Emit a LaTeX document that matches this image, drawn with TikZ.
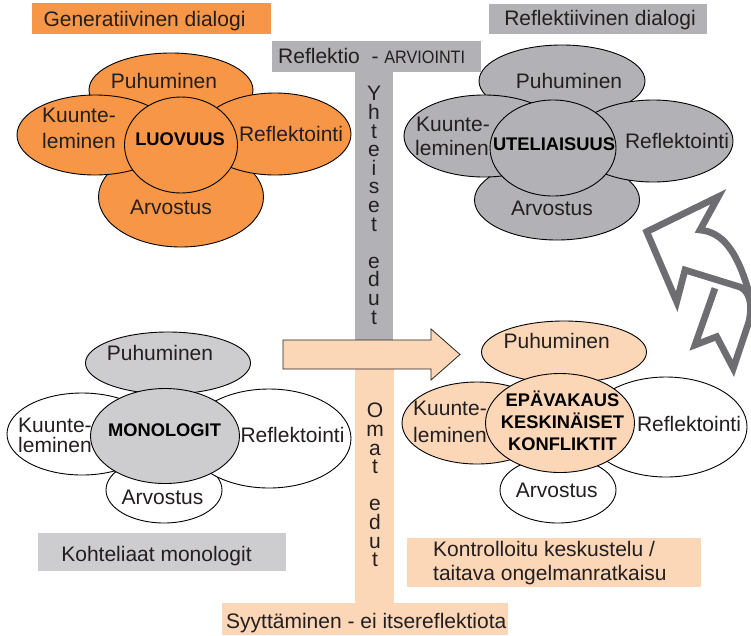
\documentclass[tikz,border=0pt]{standalone}
\usepackage{fontspec}
\usepackage{graphicx}
\setmainfont{Liberation Sans}
\usetikzlibrary{shapes.geometric}
\definecolor{petalorange}{RGB}{247,150,70}
\definecolor{petalgray}{RGB}{178,178,182}
\definecolor{palegray}{RGB}{205,205,207}
\definecolor{peach}{RGB}{251,214,183}
\definecolor{arrowgray}{RGB}{110,110,114}
\definecolor{ink}{RGB}{35,31,32}

\begin{document}
\begin{tikzpicture}[x=1pt,y=-1pt,
  petal/.style={ellipse, draw=black, line width=0.9pt, inner sep=0pt},
  lbl/.style={anchor=base, inner sep=0pt, text=ink, font=\fontsize{21}{24}\selectfont},
  lbll/.style={lbl, anchor=base west},
  column/.style={anchor=north, inner sep=0pt, text=ink, align=center,
    font=\fontsize{21}{18.6}\selectfont},
  core/.style={anchor=base, inner sep=0pt, text=black, font=\fontsize{18.3}{22}\selectfont\bfseries},
]
\useasboundingbox (0,0) rectangle (751,635);

% ---- central T-bars ----
\fill[petalgray] (272,41) rectangle (481,72);
\fill[petalgray] (355,72) rectangle (393,341);
\fill[peach] (355,368) rectangle (394,604);
\fill[peach] (222,603) rectangle (508,635);
\node[lbll] (refl) at (278,63.3)
  {Reflektio\ \ -\ \scalebox{0.9}[1]{\fontsize{18}{20}\selectfont ARVIOINTI}};
\node[column] (yhteiset) at (374,86.3)
  {Y\\h\\t\\e\\i\\s\\e\\t\\\mbox{}\\e\\d\\u\\t};
\node[column] (omat) at (375,403)
  {O\\m\\a\\t\\\mbox{}\\e\\d\\u\\t};
\node[lbll] (syyt) at (226,628.3) {Syyttäminen - ei itsereflektiota};

% block arrow across the bars
\draw[fill=peach, draw=black!85, line width=0.8pt]
  (283,340) -- (431,340) -- (431,329) -- (460,354.5) -- (431,380) -- (431,369) -- (283,369) -- cycle;

% ---- title boxes ----
\fill[petalorange] (32,3) rectangle (271,34);
\node[lbl] (tGen) at (144.5,26.7) {Generatiivinen dialogi};
\fill[petalgray] (489,4) rectangle (707,34);
\node[lbl] (tRef) at (600,25) {Reflektiivinen dialogi};
\fill[palegray] (38,533) rectangle (286,571);
\node[lbl] (tKoh) at (156.5,561.7) {Kohteliaat monologit};
\fill[peach] (407,538) rectangle (701,587);
\node[lbll] (tKon1) at (433,556.7) {Kontrolloitu keskustelu /};
\node[lbll] (tKon2) at (433,580) {taitava ongelmanratkaisu};

% ---- generative dialogue flower ----
\node[petal, fill=petalorange, minimum width=164pt, minimum height=74pt] (gPuh) at (171,90) {};
\node[petal, fill=petalorange, minimum width=165pt, minimum height=100pt] (gArv) at (181,197) {};
\node[petal, fill=petalorange, minimum width=156pt, minimum height=80pt] (gKuu) at (95,135) {};
\node[petal, fill=petalorange, minimum width=152pt, minimum height=82pt] (gRef) at (275,134) {};
\node[petal, fill=petalorange, minimum width=113pt, minimum height=96pt] (gCore) at (181,145) {};
\node[lbl] (gPuhT) at (164,88.3) {Puhuminen};
\node[lbll] (gKuuT1) at (42,122.7) {Kuunte-};
\node[lbll] (gKuuT2) at (42,148.3) {leminen};
\node[lbl] (gRefT) at (291,141.7) {Reflektointi};
\node[lbl] (gArvT) at (171,214.3) {Arvostus};
\node[core] (gCoreT) at (180,145.7) {LUOVUUS};

% ---- reflective dialogue flower ----
\node[petal, fill=petalgray, minimum width=166pt, minimum height=72pt] (rPuh) at (562,81) {};
\node[petal, fill=petalgray, minimum width=165pt, minimum height=80pt] (rArv) at (557,200) {};
\node[petal, fill=petalgray, minimum width=160pt, minimum height=82pt] (rKuu) at (484,136) {};
\node[petal, fill=petalgray, minimum width=160pt, minimum height=82pt] (rRef) at (653,141) {};
\node[petal, fill=petalgray, minimum width=126pt, minimum height=96pt] (rCore) at (553,148) {};
\node[lbl] (rPuhT) at (569,88.3) {Puhuminen};
\node[lbll] (rKuuT1) at (416,131) {Kuunte-};
\node[lbll] (rKuuT2) at (415,155) {leminen};
\node[lbl] (rRefT) at (677,148) {Reflektointi};
\node[lbl] (rArvT) at (552,215) {Arvostus};
\node[core] (rCoreT) at (554,150.7) {UTELIAISUUS};

% ---- monologue flower ----
\node[petal, fill=palegray, minimum width=165pt, minimum height=62pt] (mPuh) at (168,363) {};
\node[petal, fill=white, minimum width=116pt, minimum height=66pt] (mArv) at (164,490) {};
\node[petal, fill=white, minimum width=150pt, minimum height=82pt] (mKuu) at (82,434) {};
\node[petal, fill=white, minimum width=164pt, minimum height=99pt] (mRef) at (269,438.5) {};
\node[petal, fill=palegray, minimum width=149pt, minimum height=95pt] (mCore) at (165,436) {};
\node[lbl] (mPuhT) at (160,360) {Puhuminen};
\node[lbll] (mKuuT1) at (18,432.3) {Kuunte-};
\node[lbll] (mKuuT2) at (18,452.7) {leminen};
\node[lbl] (mRefT) at (292.5,442.7) {Reflektointi};
\node[lbl] (mArvT) at (162.5,504) {Arvostus};
\node[core] (mCoreT) at (164.5,436.7) {MONOLOGIT};

% ---- controlled discussion flower ----
\node[petal, fill=peach, minimum width=165pt, minimum height=62pt] (kPuh) at (564,352) {};
\node[petal, fill=white, minimum width=116pt, minimum height=66pt] (kArv) at (558,490) {};
\node[petal, fill=peach, minimum width=150pt, minimum height=82pt] (kKuu) at (477,423) {};
\node[petal, fill=white, minimum width=162pt, minimum height=100pt] (kRef) at (666,427) {};
\node[petal, fill=peach, minimum width=149pt, minimum height=99pt] (kCore) at (560,423) {};
\node[lbl] (kPuhT) at (556.7,348.3) {Puhuminen};
\node[lbll] (kKuuT1) at (413,415) {Kuunte-};
\node[lbll] (kKuuT2) at (413,442.7) {leminen};
\node[lbl] (kRefT) at (689,431.7) {Reflektointi};
\node[lbl] (kArvT) at (556.7,497.7) {Arvostus};
\node[core] (kCoreT1) at (562.5,406) {EPÄVAKAUS};
\node[core] (kCoreT2) at (562.5,428.3) {KESKINÄISET};
\node[core] (kCoreT3) at (562.5,450) {KONFLIKTIT};

% ---- hollow curved arrow at the right edge ----
\begin{scope}
  \clip (0,0) rectangle (751,635);
  \draw[arrowgray, line width=6.7pt, line join=miter]
    (760,330) -- (751,300) .. controls (738,250) and (722,232) .. (700,230)
    -- (718.3,196.7) -- (646.7,231.7) -- (676.7,301.7) -- (685,270)
    -- (740,287) .. controls (752,292) and (753,312) .. (746.7,328.3)
    -- (733.3,368.3) -- (716.7,336.7) -- (695,345) -- (715,288.3);
\end{scope}
\end{tikzpicture}
\end{document}
